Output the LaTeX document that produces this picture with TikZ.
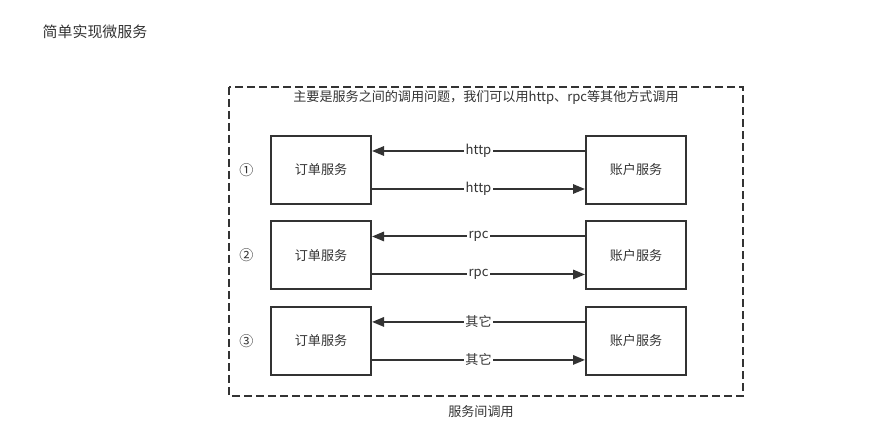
\documentclass[tikz,border=0pt]{standalone}
\usepackage{fontspec}
\setmainfont{Noto Sans CJK SC}
\usetikzlibrary{positioning,arrows.meta}
\definecolor{ink}{HTML}{333333}

\begin{document}
\begin{tikzpicture}[x=0.75pt,y=-0.75pt,>={Triangle[length=9pt,width=7pt]},node distance=11.6pt and 159.75pt,box/.style={draw=ink,line width=1.5pt,minimum width=75pt,minimum height=51pt,inner sep=0pt,text=ink,font=\fontsize{9.8}{11}\selectfont},lbl/.style={fill=white,inner sep=1pt,text=ink,font=\fontsize{9.8}{11}\selectfont},link/.style={->,draw=ink,line width=1.5pt}]
\useasboundingbox (0,0) rectangle (874,438);
\node[anchor=west,text=ink,font=\fontsize{11.2}{13}\selectfont] (title) at (38,32) {简单实现微服务};
\draw[ink,line width=1.5pt,dash pattern=on 6pt off 3pt] (229,87) rectangle (743,396);
\node[text=ink,font=\fontsize{9.8}{11}\selectfont] (note) at (486,97) {主要是服务之间的调用问题，我们可以用http、rpc等其他方式调用};
\node[text=ink,font=\fontsize{9.8}{11}\selectfont] (caption) at (481,412) {服务间调用};
\node[box] (l1) at (321,170) {订单服务};
\node[box,right=of l1] (r1) {账户服务};
\node[box,below=of l1] (l2) {订单服务};
\node[box,right=of l2] (r2) {账户服务};
\node[box,below=of l2] (l3) {订单服务};
\node[box,right=of l3] (r3) {账户服务};
\node[left=9pt of l1,text=ink,font=\fontsize{10.5}{11}\selectfont] (n1) {①};
\node[left=9pt of l2,text=ink,font=\fontsize{10.5}{11}\selectfont] (n2) {②};
\node[left=9pt of l3,text=ink,font=\fontsize{10.5}{11}\selectfont] (n3) {③};
\draw[link] ([yshift=14.25pt]r1.west)--([yshift=14.25pt]l1.east) node[lbl,midway] {http};
\draw[link] ([yshift=-14.25pt]l1.east)--([yshift=-14.25pt]r1.west) node[lbl,midway] {http};
\draw[link] ([yshift=14.25pt]r2.west)--([yshift=14.25pt]l2.east) node[lbl,midway] {rpc};
\draw[link] ([yshift=-14.25pt]l2.east)--([yshift=-14.25pt]r2.west) node[lbl,midway] {rpc};
\draw[link] ([yshift=14.25pt]r3.west)--([yshift=14.25pt]l3.east) node[lbl,midway] {其它};
\draw[link] ([yshift=-14.25pt]l3.east)--([yshift=-14.25pt]r3.west) node[lbl,midway] {其它};
\end{tikzpicture}
\end{document}
